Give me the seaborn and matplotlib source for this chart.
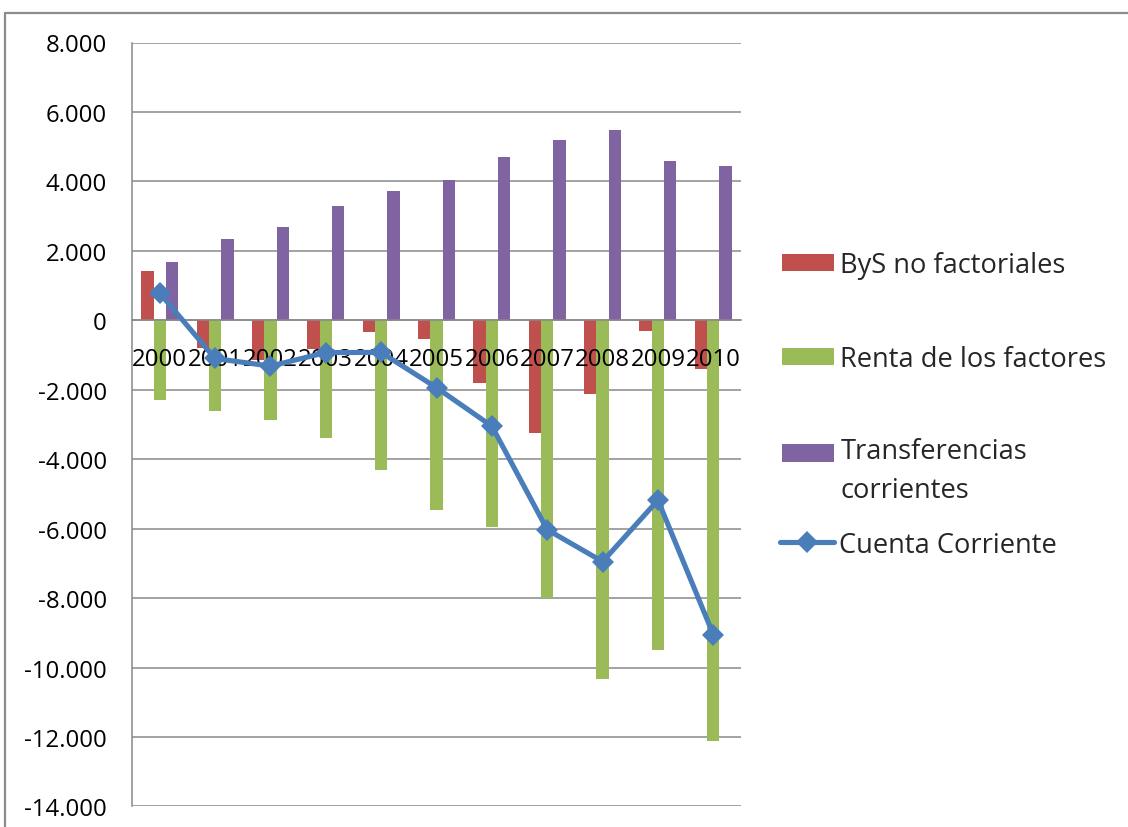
import numpy as np
import pandas as pd
import matplotlib
matplotlib.use("Agg")
import matplotlib.pyplot as plt
from matplotlib.lines import Line2D
from matplotlib.patches import Patch
from matplotlib.ticker import FuncFormatter, MultipleLocator
import seaborn as sns

# Balanza por cuenta corriente, componentes por año
years = ["2000", "2001", "2002", "2003", "2004", "2005",
         "2006", "2007", "2008", "2009", "2010"]
bys_no_factoriales = [1410, -805, -1135, -825, -335, -525,
                      -1810, -3240, -2120, -295, -1410]
renta_factores = [-2285, -2620, -2870, -3395, -4300, -5465,
                  -5955, -8010, -10340, -9495, -12115]
transferencias = [1670, 2340, 2695, 3290, 3710, 4050,
                  4710, 5180, 5480, 4590, 4445]
cuenta_corriente = [785, -1100, -1320, -930, -925, -1940,
                    -3050, -6030, -6950, -5180, -9050]

series_names = ["ByS no factoriales", "Renta de los factores",
                "Transferencias\ncorrientes"]
bar_colors = ["#C0504D", "#9BBB59", "#8064A2"]
line_name = "Cuenta Corriente"
line_color = "#4A7EBB"
grid_color = "#898989"

df = pd.DataFrame({
    "año": years * 3,
    "serie": [series_names[0]] * len(years) + [series_names[1]] * len(years)
             + [series_names[2]] * len(years),
    "valor": bys_no_factoriales + renta_factores + transferencias,
})

sns.set_theme(style="white")
plt.rcParams["font.family"] = ["Open Sans", "DejaVu Sans"]

W, H = 1128, 828
fig = plt.figure(figsize=(W / 100, H / 100), dpi=100)
ax = fig.add_axes([132 / W, 1 - 807.4 / H, 609 / W, (807.4 - 43.5) / H])

sns.barplot(data=df, x="año", y="valor", hue="serie", hue_order=series_names,
            palette=bar_colors, width=0.667, saturation=1, errorbar=None,
            linewidth=0, legend=False, ax=ax)

positions = np.arange(len(years))
sns.lineplot(x=positions, y=cuenta_corriente, color=line_color, linewidth=3.7,
             marker="D", markersize=10.8, markeredgewidth=0, ax=ax, zorder=4,
             legend=False)

ax.set_xlim(-0.5, len(years) - 0.5)
ax.set_ylim(-14000, 8000)
ax.yaxis.set_major_locator(MultipleLocator(2000))
ax.yaxis.set_major_formatter(
    FuncFormatter(lambda v, _: f"{v:,.0f}".replace(",", ".")))
ax.set_xlabel("")
ax.set_ylabel("")

ax.set_axisbelow(True)
ax.yaxis.grid(True, color=grid_color, linewidth=1.1)
ax.xaxis.grid(False)
ax.xaxis.set_zorder(2.5)

for side in ["top", "right"]:
    ax.spines[side].set_visible(False)
ax.spines["left"].set_color(grid_color)
ax.spines["left"].set_linewidth(1.1)
ax.spines["bottom"].set_position(("data", 0))
ax.spines["bottom"].set_color(grid_color)
ax.spines["bottom"].set_linewidth(1.1)

ax.tick_params(axis="y", length=0, pad=18, labelsize=17.3, labelcolor="black")
ax.tick_params(axis="x", length=0, pad=19, labelsize=17.3, labelcolor="black")

# Leyenda a la derecha: una entrada por fila, centrada en su altura
legend_font = 19.6
legend_kw = dict(loc="center left", frameon=False, fontsize=legend_font,
                 borderpad=0, borderaxespad=0)
row_centers = [266, 360, 471.5]
for name, color, yc in zip(series_names, bar_colors, row_centers):
    leg = fig.legend([Patch(facecolor=color, edgecolor="none")], [name],
                     bbox_to_anchor=(782 / W, 1 - yc / H), handlelength=1.92,
                     handleheight=0.63, handletextpad=0.22, **legend_kw)
    text = leg.get_texts()[0]
    n_lines = name.count("\n") + 1
    if n_lines > 1:
        text.set_linespacing(1.55)
        # el recuadro de color acompaña a la primera línea del texto
        rect = leg.get_patches()[0]
        rect.set_y(rect.get_y() + 13.5)

line_handle = Line2D([], [], color=line_color, linewidth=3.7, marker="D",
                     markersize=10.8, markeredgewidth=0)
fig.legend([line_handle], [line_name], bbox_to_anchor=(780 / W, 1 - 546 / H),
           handlelength=2.0, handletextpad=0.18, **legend_kw)

# Marco exterior del gráfico
border_kw = dict(transform=fig.transFigure, color="#8C8C8C", linewidth=1.6)
fig.add_artist(Line2D([5 / W, 1], [1 - 14 / H, 1 - 14 / H], **border_kw))
fig.add_artist(Line2D([5 / W, 5 / W], [0, 1 - 14 / H], **border_kw))

fig.savefig("out.png", dpi=100, facecolor="white")
